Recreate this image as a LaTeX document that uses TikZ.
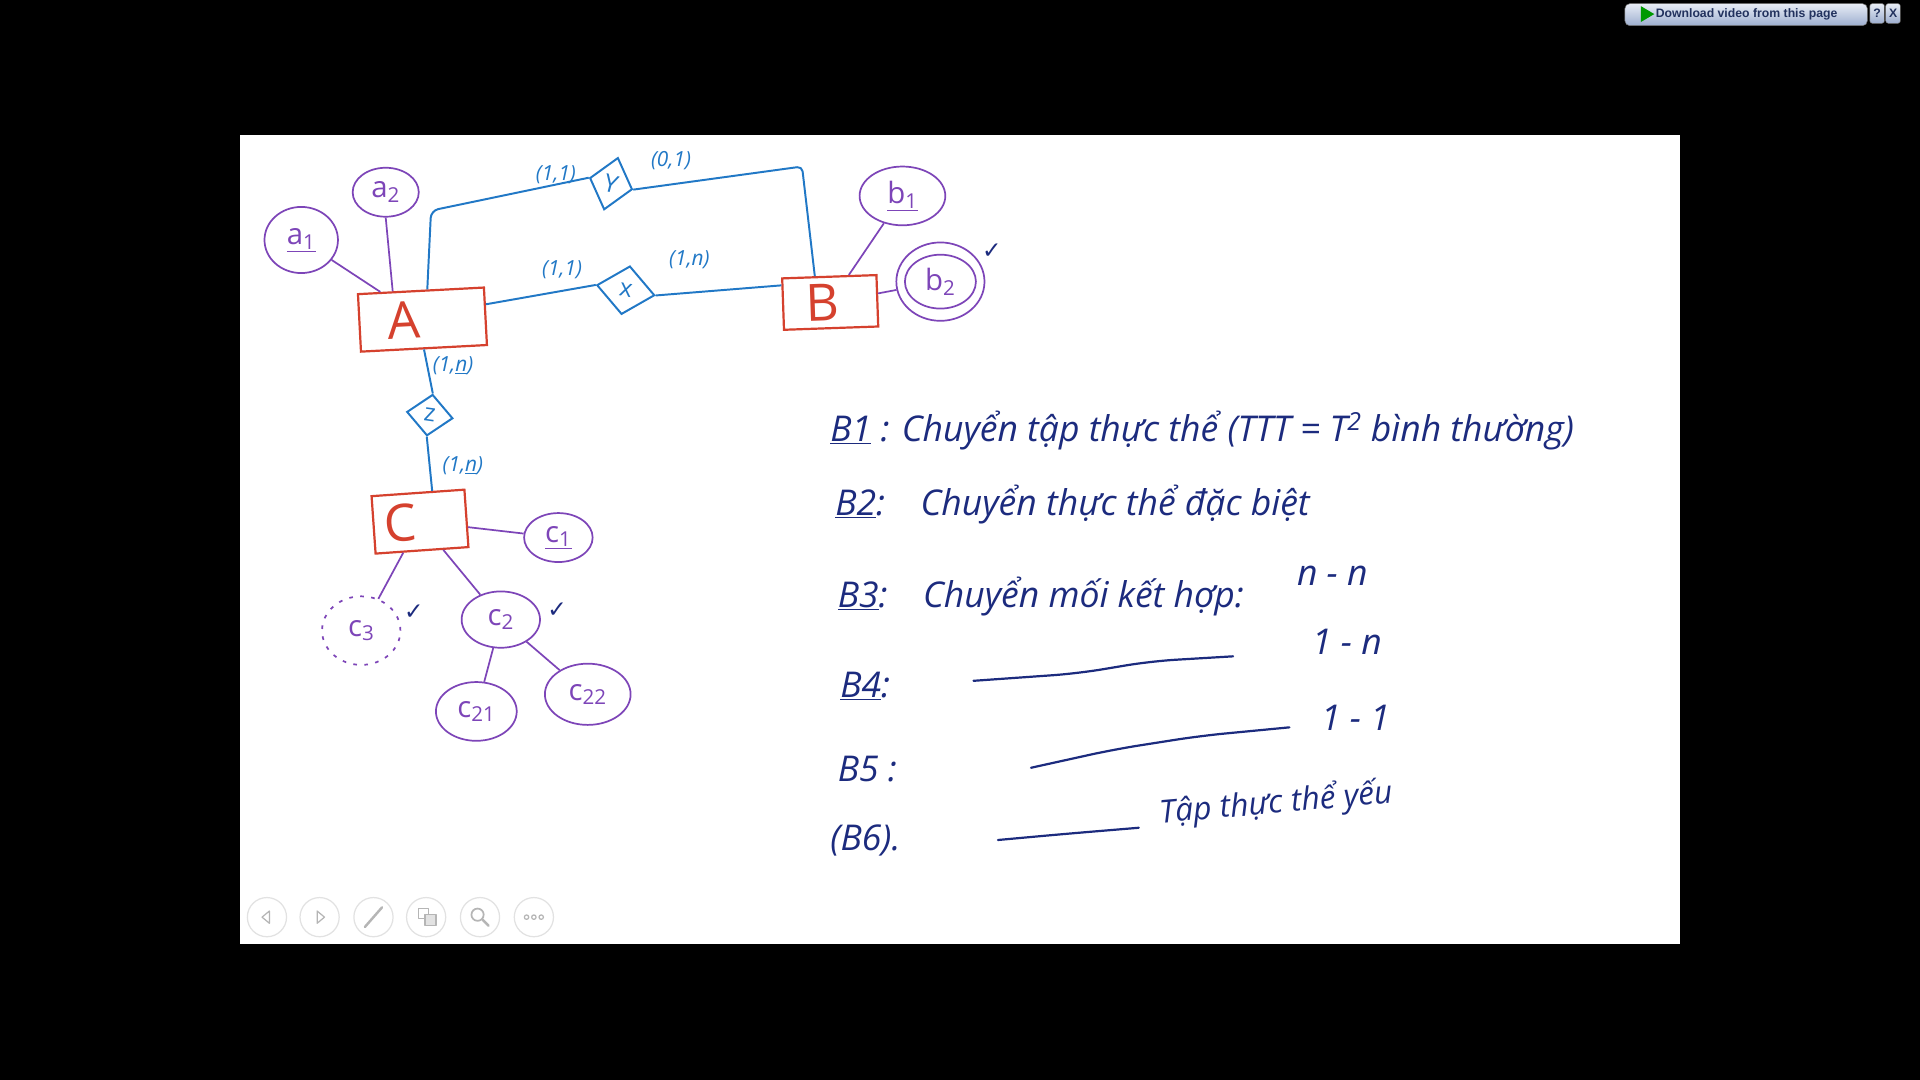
\documentclass[tikz,border=0pt]{standalone}
\usepackage{fontspec}
\setmainfont{Open Sans}
\newfontfamily\hand{Open Sans}
\newfontfamily\symf{DejaVu Sans}
\newfontfamily\uif{Liberation Sans}
\usetikzlibrary{shapes.geometric,calc}
\definecolor{entred}{HTML}{D5412E}
\definecolor{attpurple}{HTML}{7D45B8}
\definecolor{relblue}{HTML}{2178C6}
\definecolor{inkblue}{HTML}{1C2B7E}
\definecolor{uigrey}{HTML}{E2E2E2}
\definecolor{barA}{HTML}{E8EDF6}
\definecolor{barB}{HTML}{9DAECF}
\definecolor{bartext}{HTML}{22325E}
\tikzset{
 entity/.style={draw=entred, line width=1.8pt, inner sep=0pt, text=entred,
   font=\hand\fontsize{42}{42}\selectfont},
 attr/.style={ellipse, draw=attpurple, line width=1.4pt, inner sep=0pt, text=attpurple,
   font=\hand\fontsize{24}{24}\selectfont},
 rel/.style={diamond, draw=relblue, line width=1.6pt, inner sep=0pt, text=relblue,
   font=\hand\fontsize{20}{20}\selectfont},
 attline/.style={draw=attpurple, line width=1.4pt},
 relline/.style={draw=relblue, line width=1.6pt, line join=round},
 card/.style={text=relblue, inner sep=0pt, font=\hand\itshape\fontsize{17}{17}\selectfont},
 tick/.style={text=inkblue, inner sep=0pt, font=\symf\fontsize{19}{19}\selectfont},
 stepln/.style={text=inkblue, inner sep=0pt, anchor=west, font=\hand\itshape\fontsize{29}{29}\selectfont},
 inkline/.style={draw=inkblue, line width=1.8pt, line cap=round, rounded corners=20pt},
 uibtn/.style={circle, draw=uigrey, line width=1pt, minimum size=32pt, inner sep=0pt},
 uiicon/.style={draw=uigrey!80!black, line width=1pt, line cap=round, line join=round},
}
\begin{document}
\begin{tikzpicture}[x=1pt,y=-1pt]
\fill[black] (0,0) rectangle (1568,882);
\useasboundingbox (0,0) rectangle (1568,882);
\fill[white] (196,110) rectangle (1372,771);

% ---------- entities ----------
\node[entity, minimum width=103pt, minimum height=47pt, rotate=3] (A) at (345,261) {A\kern30pt};
\node[entity, minimum width=77pt, minimum height=42pt, rotate=2] (B) at (678,247) {B\kern12pt};
\node[entity, minimum width=76pt, minimum height=47pt, rotate=4] (C) at (343,426) {C\kern32pt};

% ---------- attributes ----------
\node[attr, minimum width=60pt, minimum height=54pt] (a1) at (246,196) {\underline{a\textsubscript{1}}};
\node[attr, minimum width=54pt, minimum height=40pt] (a2) at (315,157) {a\textsubscript{2}};
\node[attr, minimum width=70pt, minimum height=48pt] (b1) at (737,160) {\underline{b\textsubscript{1}}};
\node[attr, minimum width=72pt, minimum height=64pt] (b2) at (768,230) {b\textsubscript{2}};
\draw[attline] (b2.center) ellipse (29 and 22);
\node[attr, minimum width=56pt, minimum height=40pt] (c1) at (456,439) {\underline{c\textsubscript{1}}};
\node[attr, dash pattern=on 3pt off 6pt, minimum width=64pt, minimum height=56pt] (c3) at (295,515) {c\textsubscript{3}};
\node[attr, minimum width=64pt, minimum height=46pt] (c2) at (409,506) {c\textsubscript{2}};
\node[attr, minimum width=66pt, minimum height=48pt] (c21) at (389,581) {c\textsubscript{21}};
\node[attr, minimum width=70pt, minimum height=50pt] (c22) at (480,567) {c\textsubscript{22}};

% ---------- relationships ----------
\node[rel, minimum width=36pt, minimum height=44pt, rotate=-15] (Y) at (499,150) {Y};
\node[rel, minimum width=48pt, minimum height=40pt, rotate=-10] (X) at (511,237) {x};
\node[rel, minimum width=38pt, minimum height=34pt, rotate=-8] (Z) at (351,339) {z};

% ---------- attribute links ----------
\draw[attline] (a1) -- (A);
\draw[attline] (a2.south) -- ($(A.north west)!0.28!(A.north east)$);
\draw[attline] (b1) -- (B);
\draw[attline] (B) -- (b2);
\draw[attline] (C) -- (c1);
\draw[attline] (C) -- (c3);
\draw[attline] (C) -- (c2);
\draw[attline] (c2) -- (c21);
\draw[attline] (c2) -- (c22);

% ---------- relationship links ----------
\coordinate (ya) at (352,172);
\coordinate (yb) at (655,136);
\draw[relline, rounded corners=6pt] ($(A.north west)!0.55!(A.north east)$) -- (ya) -- (Y.west);
\draw[relline, rounded corners=4pt] (Y.east) -- (yb) -- ($(B.north west)!0.35!(B.north east)$);
\draw[relline] ($(A.north east)!0.3!(A.south east)$) -- (X.west);
\draw[relline] (X.east) -- ($(B.north west)!0.15!(B.south west)$);
\draw[relline] ($(A.south west)!0.5!(A.south east)$) -- (Z.north);
\draw[relline] (Z.south) -- ($(C.north west)!0.65!(C.north east)$);

% ---------- cardinalities ----------
\node[card] (k1) at (454,143) {(1,1)};
\node[card] (k2) at (548,131) {(0,1)};
\node[card] (k3) at (459,220) {(1,1)};
\node[card] (k4) at (563,212) {(1,n)};
\node[card] (k5) at (370,299) {(1,\underline{n})};
\node[card] (k6) at (378,380) {(1,\underline{n})};

% ---------- ticks ----------
\node[tick] (t1) at (810,205) {✓};
\node[tick] (t2) at (338,500) {✓};
\node[tick] (t3) at (455,498) {✓};

% ---------- steps ----------
\node[stepln] (s1) at (678,352) {\underline{B1} : Chuyển tập thực thể (TTT = T\textsuperscript{2} bình thường)};
\node[stepln] (s2) at (682,412) {\underline{B2}:\quad Chuyển thực thể đặc biệt};
\node[stepln] (s3) at (684,487) {\underline{B3}:\quad Chuyển mối kết hợp:};
\node[stepln, anchor=center] (r3) at (1088,470) {n - n};
\node[stepln] (s4) at (686,560) {\underline{B4}:};
\node[stepln, anchor=center] (r4) at (1100,524) {1 - n};
\node[stepln] (s5) at (684,628) {B5 :};
\node[stepln, anchor=center] (r5) at (1107,586) {1 - 1};
\node[stepln] (s6) at (678,686) {(B6).};
\node[stepln, anchor=center, rotate=5, font=\hand\itshape\fontsize{26}{26}\selectfont] (r6) at (1042,656) {Tập thực thể yếu};
\coordinate (l4a) at (795,556); \coordinate (l4b) at (880,550); \coordinate (l4c) at (940,540); \coordinate (l4d) at (1007,536);
\draw[inkline] (l4a) -- (l4b) -- (l4c) -- (l4d);
\coordinate (l5a) at (842,627); \coordinate (l5b) at (910,612); \coordinate (l5c) at (980,601); \coordinate (l5d) at (1053,594);
\draw[inkline] (l5a) -- (l5b) -- (l5c) -- (l5d);
\coordinate (l6a) at (815,686); \coordinate (l6b) at (870,681); \coordinate (l6c) at (930,676);
\draw[inkline] (l6a) -- (l6b) -- (l6c);

% ---------- download bar ----------
\shade[top color=barA, bottom color=barB, draw=black!55, rounded corners=4pt] (1327,3) rectangle (1525,21);
\node[inner sep=0pt, text=bartext, font=\uif\bfseries\fontsize{10}{10}\selectfont, anchor=west] (dl) at (1352,12) {Download video from this page};
\fill[green!60!black] (1340,5) -- (1351,11.5) -- (1340,18) -- cycle;
\shade[top color=barA, bottom color=barB, draw=black!55, rounded corners=2pt] (1527,3) rectangle (1539,19);
\shade[top color=barA, bottom color=barB, draw=black!55, rounded corners=2pt] (1540,3) rectangle (1552,19);
\node[inner sep=0pt, text=bartext, font=\uif\bfseries\fontsize{10}{10}\selectfont] (q) at (1533,11) {?};
\node[inner sep=0pt, text=bartext, font=\uif\bfseries\fontsize{10}{10}\selectfont] (xx) at (1546,11) {X};

% ---------- toolbar ----------
\node[uibtn] (u1) at (218,749) {};
\node[uibtn] (u2) at (261,749) {};
\node[uibtn] (u3) at (305,749) {};
\node[uibtn] (u4) at (348,749) {};
\node[uibtn] (u5) at (392,749) {};
\node[uibtn] (u6) at (436,749) {};
\draw[uiicon] (220,744) -- (214,749) -- (220,754) -- cycle;
\draw[uiicon] (259,744) -- (265,749) -- (259,754) -- cycle;
\draw[uiicon, line width=2pt] (298,757) -- (312,741);
\draw[uiicon] (342,742) rectangle (350,750);
\draw[uiicon, fill=uigrey] (347,747) rectangle (356,756);
\draw[uiicon, line width=1.4pt] (390,747) circle (5);
\draw[uiicon, line width=2pt] (394,751) -- (399,756);
\draw[uiicon] (430,749) circle (1.8) (436,749) circle (1.8) (442,749) circle (1.8);
\end{tikzpicture}
\end{document}
